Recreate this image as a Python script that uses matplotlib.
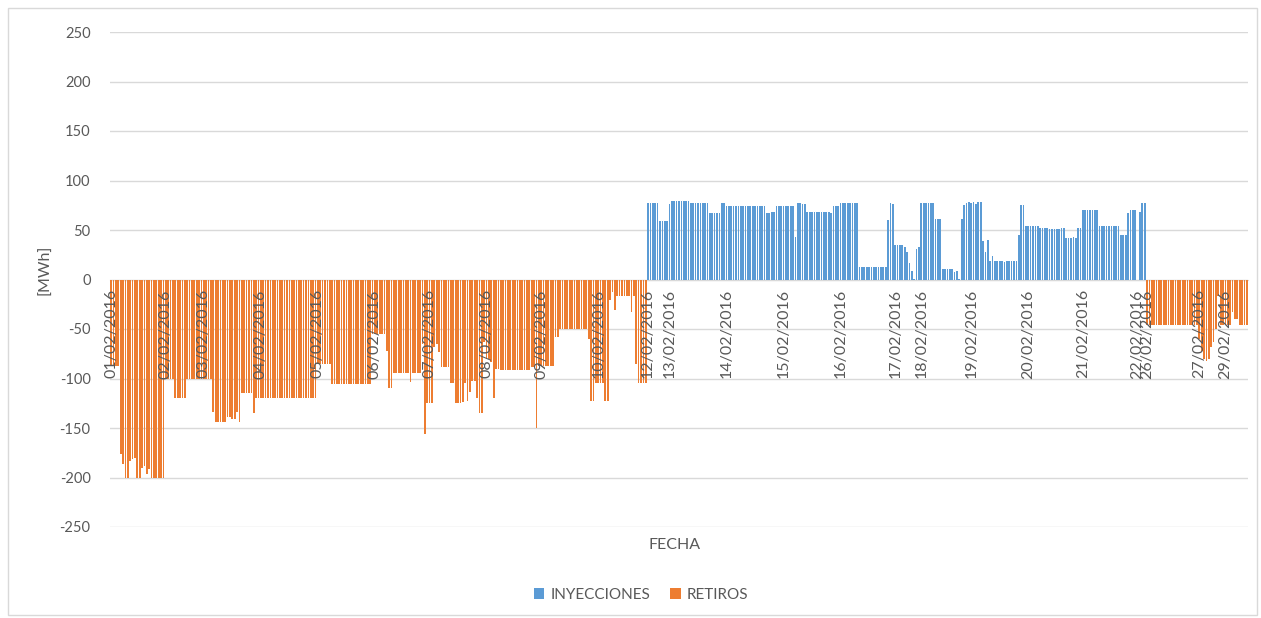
import numpy as np
import matplotlib
matplotlib.use("Agg")
import matplotlib.pyplot as plt
from matplotlib.patches import Patch, Rectangle

# ---- hourly net values per day [MWh]  (positive = INYECCIONES, negative = RETIROS)
d01 = [-87, -87, -87, -87, -176, -186, -200, -200, -183, -181, -180, -200, -200, -190, -188, -196, -191, -200, -200, -200, -200, -200, -200]
d02 = [-100, -100, -100, -100, -120, -120, -120, -120, -120, -100, -100, -100, -100, -100, -100, -100]
d03 = [-100, -100, -100, -100, -134, -144, -144, -144, -144, -144, -139, -139, -141, -141, -134, -144, -115, -115, -115, -115, -115, -135, -120, -120]
d04 = [-120, -120, -120, -120, -120, -120, -120, -120, -120, -120, -120, -120, -120, -120, -120, -120, -120, -120, -120, -120, -120, -120, -120, -120]
d05 = [-85, -85, -85, -85, -85, -85, -106, -106, -106, -106, -106, -106, -106, -106, -106, -106, -106, -106, -106, -106, -106, -106, -106, -55]
d06 = [-55, -55, -55, -55, -55, -72, -110, -110, -94, -94, -94, -94, -94, -94, -94, -104, -94, -94, -94, -94, -65, -156, -125]
d07 = [-125, -125, -68, -65, -73, -88, -88, -88, -88, -105, -105, -125, -125, -125, -124, -105, -123, -114, -103, -103, -120, -135, -135, -63]
d08 = [-80, -80, -83, -120, -90, -90, -91, -91, -91, -91, -91, -91, -91, -91, -91, -91, -91, -91, -91, -88, -88, -150, -87]
d09 = [-87, -87, -87, -87, -87, -87, -58, -58, -50, -50, -50, -50, -50, -50, -50, -50, -50, -50, -50, -50, -60, -123, -123, -105]
d10 = [-105, -105, -105, -123, -123, -21, -13, -31, -17, -17, -17, -17, -17, -17, -33, -17, -85, -105, -105, -105, -105]
d12 = [77, 77, 77, 77, 77, 59, 59, 59, 59]
d13 = [76, 79, 79, 79, 79, 79, 79, 79, 79, 77, 77, 77, 77, 77, 77, 77, 77, 67, 67, 67, 67, 67, 77, 77]
d14 = [74, 74, 74, 74, 74, 74, 74, 74, 74, 74, 74, 74, 74, 74, 74, 74, 74, 67, 67, 68, 68, 74, 74, 74]
d15 = [74, 74, 74, 74, 74, 43, 77, 77, 76, 76, 68, 68, 68, 68, 68, 68, 68, 68, 68, 68, 67, 74, 74, 74]
d16 = [77, 77, 77, 77, 77, 77, 77, 77, 13, 13, 13, 13, 13, 13, 13, 13, 13, 13, 13, 13, 60, 77, 76]
d17 = [35, 35, 35, 35, 33, 28, 17, 9, 1, 31, 33]
d18 = [77, 77, 77, 77, 77, 77, 61, 61, 61, 11, 11, 11, 11, 11, 8, 9, 1, 61, 75, 77, 78]
d19 = [77, 78, 76, 78, 78, 39, 28, 40, 19, 24, 19, 19, 19, 19, 18, 19, 19, 19, 19, 19, 45, 75, 75, 54]
d20 = [54, 54, 54, 54, 54, 52, 52, 52, 52, 51, 51, 51, 51, 51, 52, 52, 42, 42, 42, 43, 42, 52, 52]
d21 = [70, 70, 70, 70, 70, 70, 70, 54, 54, 54, 54, 54, 54, 54, 54, 54, 45, 45, 45, 67, 70, 70, 70]
d22 = [0, 68, 77, 77]
d26 = [-46, -46, -46, -46, -46, -46, -46, -46, -46, -46, -46, -46, -46, -46, -46, -46, -46, -46, -46, -46, -46, -46]
d27 = [-60, -72, -80, -82, -80, -68, -63, -50, -17, -46, -46]
d29 = [-46, -46, -46, -33, -40, -40, -46, -46, -46, -46]

day_labels = ["01/02/2016", "02/02/2016", "03/02/2016", "04/02/2016", "05/02/2016",
              "06/02/2016", "07/02/2016", "08/02/2016", "09/02/2016", "10/02/2016",
              "12/02/2016", "13/02/2016", "14/02/2016", "15/02/2016", "16/02/2016",
              "17/02/2016", "18/02/2016", "19/02/2016", "20/02/2016", "21/02/2016",
              "22/02/2016", "26/02/2016", "27/02/2016", "29/02/2016"]
day_values = [d01, d02, d03, d04, d05, d06, d07, d08, d09, d10, d12, d13, d14, d15,
              d16, d17, d18, d19, d20, d21, d22, d26, d27, d29]

BLUE = "#5B9BD5"
ORANGE = "#ED7D31"
GRID = "#D9D9D9"
TXT = "#595959"
FONT = ["Lato", "DejaVu Sans"]
plt.rcParams["font.family"] = FONT
plt.rcParams["axes.unicode_minus"] = False

vals = np.concatenate([np.asarray(v, dtype=float) for v in day_values])
starts = np.cumsum([0] + [len(v) for v in day_values[:-1]])
n = len(vals)
x = np.arange(n)
inyecciones = np.where(vals > 0, vals, 0.0)
retiros = np.where(vals < 0, vals, 0.0)

W, H = 1261, 618
fig = plt.figure(figsize=(W / 100, H / 100), dpi=100)
ax = fig.add_axes([110 / W, 1 - 527 / H, 1138 / W, 495 / H])

ax.bar(x, inyecciones, width=0.72, color=BLUE, zorder=2, linewidth=0)
ax.bar(x, retiros, width=0.72, color=ORANGE, zorder=2, linewidth=0)

ax.set_xlim(-0.5, n - 0.5)
ax.set_ylim(-250, 250)
ax.set_yticks(np.arange(-250, 251, 50))
ax.yaxis.grid(True, color=GRID, linewidth=1.0)
ax.set_axisbelow(True)

for s in ["top", "right", "left"]:
    ax.spines[s].set_visible(False)
ax.spines["bottom"].set_position(("data", 0))
ax.spines["bottom"].set_color(GRID)
ax.spines["bottom"].set_zorder(1)

ax.set_xticks(starts)
ax.set_xticklabels(day_labels, rotation=90, fontsize=11.5, color=TXT)
ax.tick_params(axis="x", length=0, pad=7)
ax.tick_params(axis="y", length=0, pad=14, labelsize=10.5, labelcolor=TXT)
ax.xaxis.set_zorder(5)

fig.text(675 / W, 1 - 545 / H, "FECHA", ha="center", va="center", fontsize=11.5, color=TXT)
fig.text(45 / W, 1 - 270 / H, "[MWh]", ha="center", va="center", rotation=90, fontsize=11.5, color=TXT)

handles = [Patch(facecolor=BLUE, label="INYECCIONES"), Patch(facecolor=ORANGE, label="RETIROS")]
fig.legend(handles=handles, loc="center", bbox_to_anchor=(641 / W, 1 - 595 / H), ncol=2,
           frameon=False, handlelength=0.7, handleheight=0.7, handletextpad=0.4,
           columnspacing=1.3, fontsize=11, labelcolor=TXT)

fig.patches.append(Rectangle((8 / W, 3 / H), 1249 / W, 607 / H, transform=fig.transFigure,
                             fill=False, edgecolor=GRID, linewidth=1))

fig.savefig("out.png", dpi=100, facecolor="white")
